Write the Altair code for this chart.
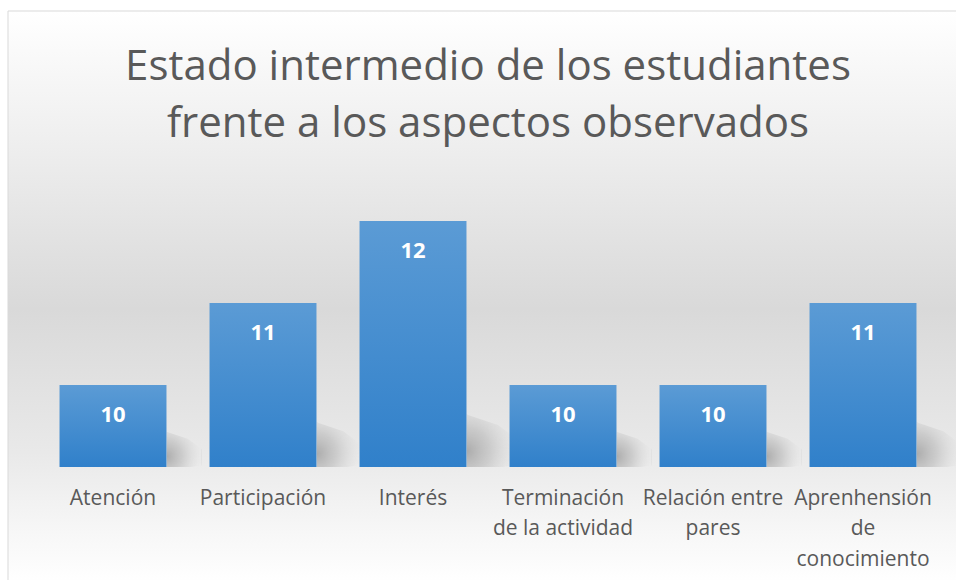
import altair as alt
import pandas as pd

categories = ["Atención", "Participación", "Interés",
              "Terminación de la actividad", "Relación entre pares",
              "Aprenhensión de conocimiento"]
values = [10, 11, 12, 10, 10, 11]
label_lines = [["Atención"], ["Participación"], ["Interés"],
               ["Terminación", "de la actividad"], ["Relación entre", "pares"],
               ["Aprenhensión", "de", "conocimiento"]]
title_lines = ["Estado intermedio de los estudiantes",
               "frente a los aspectos observados"]

df = pd.DataFrame({"cat": categories, "val": values})
df["base"] = 9

# label expression for wrapped labels
expr = "datum.value"
for c, lines in reversed(list(zip(categories, label_lines))):
    arr = "[" + ",".join("'" + l + "'" for l in lines) + "]"
    expr = f"datum.value == '{c}' ? {arr} : ({expr})"

bg_grad = alt.Gradient(
    gradient="linear", x1=0, x2=0, y1=0, y2=1,
    stops=[
        alt.GradientStop(offset=0.0, color="#ffffff"),
        alt.GradientStop(offset=0.25, color="#ededed"),
        alt.GradientStop(offset=0.52, color="#d9d9d9"),
        alt.GradientStop(offset=0.77, color="#e9e9e9"),
        alt.GradientStop(offset=0.9, color="#f6f6f6"),
        alt.GradientStop(offset=1.0, color="#ffffff"),
    ],
)

bar_grad = alt.Gradient(
    gradient="linear", x1=0, x2=0, y1=0, y2=1,
    stops=[
        alt.GradientStop(offset=0.0, color="#5b9bd5"),
        alt.GradientStop(offset=1.0, color="#3080ca"),
    ],
)

shadow_grad = alt.Gradient(
    gradient="radial", x1=0, y1=0.7, r1=0, x2=0, y2=0.7, r2=1,
    stops=[
        alt.GradientStop(offset=0.0, color="rgba(130,130,130,0.6)"),
        alt.GradientStop(offset=0.45, color="rgba(150,150,150,0.35)"),
        alt.GradientStop(offset=1.0, color="rgba(200,200,200,0)"),
    ],
)

background = alt.Chart(alt.Data(values=[{}])).mark_rect(
    fill=bg_grad, stroke="#d9d9d9", strokeWidth=1, clip=False
).encode(
    x=alt.value(-30), x2=alt.value(930),
    y=alt.value(-128), y2=alt.value(445),
)

x_enc = alt.X("cat:N", sort=categories, title=None,
              scale=alt.Scale(paddingInner=0.287, paddingOuter=0.1435),
              axis=alt.Axis(labelExpr=expr, labelAngle=0, ticks=False,
                            domain=False, labelFont="Open Sans",
                            labelFontSize=21, labelColor="#595959",
                            labelPadding=20, labelLineHeight=30.5,
                            labelBaseline="top", labelAlign="center",
                            bandPosition=0.5, zindex=2))
y_scale = alt.Scale(domain=[9, 13], zero=False, nice=False)
y_enc = alt.Y("val:Q", title=None, scale=y_scale, axis=None)

shadows = alt.Chart(df).mark_point(
    shape="M0,0 L0,-1 L0.6,-0.8 L1,-0.5 L1,-0.05 L0.7,0 Z",
    filled=True, fill=shadow_grad, strokeWidth=0, opacity=1, clip=False
).encode(
    x=alt.X("cat:N", sort=categories, bandPosition=1),
    y=alt.Y("base:Q", scale=y_scale, axis=None),
    size=alt.Size("val:Q", scale=alt.Scale(domain=[10, 12], range=[5000, 11000]),
                  legend=None),
)

bars = alt.Chart(df).mark_bar(fill=bar_grad, clip=True).encode(
    x=x_enc, y=y_enc, y2=alt.datum(9)
)

text = alt.Chart(df).mark_text(
    color="white", fontWeight="bold", font="Open Sans", fontSize=22,
    baseline="middle", dy=30
).encode(
    x=alt.X("cat:N", sort=categories), y="val:Q", text="val:Q"
)

chart = alt.layer(background, shadows, bars, text).properties(
    width=900, height=328,
    autosize=alt.AutoSizeParams(type="none"),
    padding={"left": 38, "top": 139, "right": 18, "bottom": 113},
    title=alt.TitleParams(title_lines, font="Open Sans", fontSize=42,
                          fontWeight="normal", color="#595959",
                          anchor="middle", lineHeight=57, offset=-135),
).configure_view(stroke=None).configure(background="white")

chart.save("out.html", embed_options={"renderer": "svg", "actions": False})
